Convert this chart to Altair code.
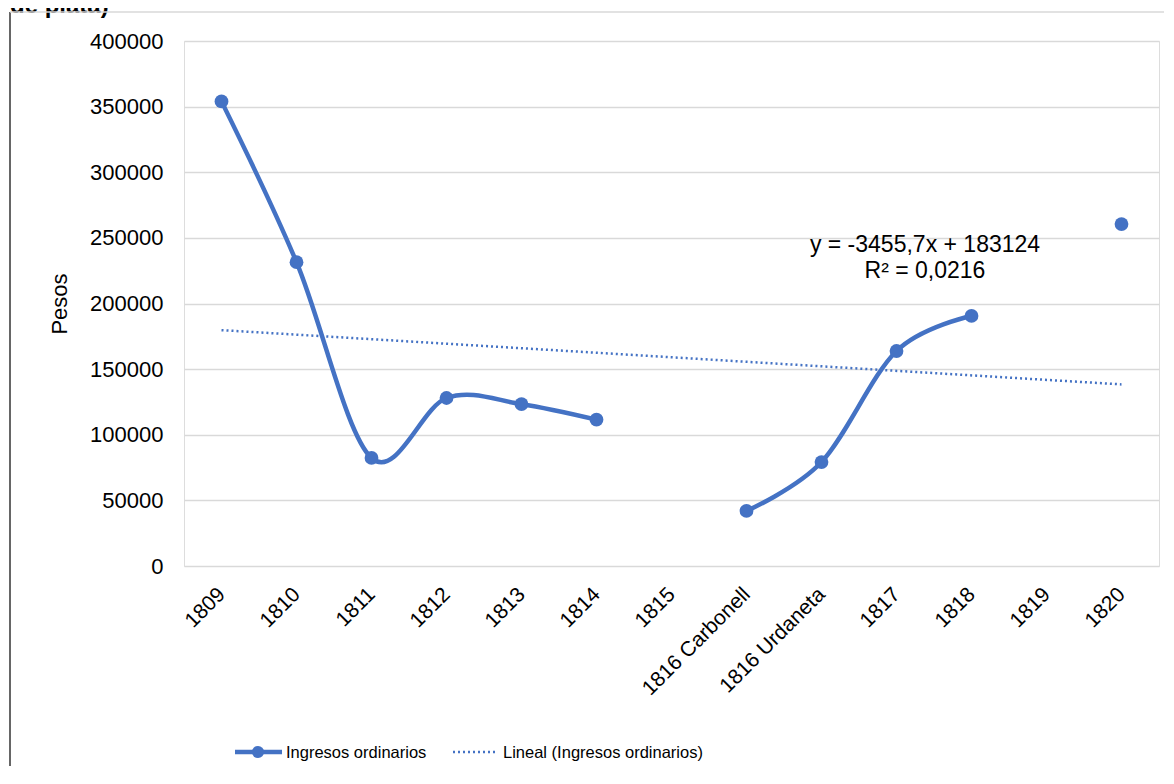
import altair as alt
import pandas as pd

categories = ["1809", "1810", "1811", "1812", "1813", "1814", "1815",
              "1816 Carbonell", "1816 Urdaneta", "1817", "1818", "1819", "1820"]
ingresos = [354000, 231500, 82300, 128000, 123300, 111500, None,
            42000, 79200, 163800, 190500, None, 260500]
eq_lines = ["y = -3455,7x + 183124", "R² = 0,0216"]
legend_labels = ["Ingresos ordinarios", "Lineal (Ingresos ordinarios)"]
title_text = "de plata)"

BLUE = "#4472C4"
FONT = "Liberation Sans"

# build table; segment id breaks the line at missing values
rows = []
seg = 0
prev_missing = True
for i, (c, v) in enumerate(zip(categories, ingresos), start=1):
    if v is None:
        prev_missing = True
        continue
    if prev_missing:
        seg += 1
    prev_missing = False
    rows.append({"idx": i, "cat": c, "val": v, "seg": seg})
df = pd.DataFrame(rows)

label_js = "[" + ",".join('"%s"' % c for c in categories) + "]"

x_enc = alt.X("idx:Q",
              scale=alt.Scale(domain=[0.5, len(categories) + 0.5], nice=False, zero=False),
              axis=alt.Axis(values=list(range(1, len(categories) + 1)),
                            labelExpr=label_js + "[datum.value - 1]",
                            labelAngle=-45, labelAlign="right", labelBaseline="middle",
                            labelPadding=25, labelFontSize=21, labelColor="#000",
                            labelFont=FONT, labelOverlap=False, labelBound=False,
                            ticks=False, domain=False, grid=False,
                            title=None))
y_enc = alt.Y("val:Q",
              scale=alt.Scale(domain=[0, 400000], nice=False),
              axis=alt.Axis(values=list(range(0, 400001, 50000)), format="d",
                            labelFontSize=22, labelColor="#000", labelFont=FONT,
                            labelPadding=21, ticks=False, domain=False,
                            gridColor="#d9d9d9", gridWidth=1.5,
                            title="Pesos", titleFontSize=22, titleFont=FONT,
                            titleFontWeight="normal", titleColor="#000",
                            titlePadding=18))

base = alt.Chart(df)

line = base.mark_line(color=BLUE, strokeWidth=4.5, interpolate="cardinal").encode(
    x=x_enc, y=y_enc, detail="seg:N")
pts = base.mark_circle(color=BLUE, size=190, opacity=1).encode(x="idx:Q", y="val:Q")

trend = base.transform_regression("idx", "val", method="linear").mark_line(
    color=BLUE, strokeWidth=2.5, strokeDash=[2, 3]).encode(x="idx:Q", y="val:Q")


def text_at(t, x, y, size, font=FONT, align="center", weight="normal", baseline="middle"):
    return alt.Chart(pd.DataFrame({"t": [t]})).mark_text(
        fontSize=size, font=font, color="#000", align=align, baseline=baseline,
        fontWeight=weight).encode(text="t:N", x=alt.value(x), y=alt.value(y))


eq1 = text_at(eq_lines[0], 741, 204, 23)
eq2 = text_at(eq_lines[1], 741, 230, 23)

title = text_at(title_text, -174, -28, 24, align="left", weight="bold", baseline="alphabetic")

one = pd.DataFrame({"a": [0]})
frame_left = alt.Chart(one).mark_rule(color="#333", strokeWidth=1.5).encode(
    x=alt.value(-174), y=alt.value(-29), y2=alt.value(760))
frame_top = alt.Chart(one).mark_rule(color="#d9d9d9", strokeWidth=1.5).encode(
    x=alt.value(-174), x2=alt.value(1000), y=alt.value(-29))

# manual legend
leg_line = alt.Chart(one).mark_rule(color=BLUE, strokeWidth=4.5).encode(
    x=alt.value(51), x2=alt.value(98), y=alt.value(711))
leg_pt = alt.Chart(one).mark_circle(color=BLUE, size=150, opacity=1).encode(
    x=alt.value(74), y=alt.value(711))
leg_dot = alt.Chart(one).mark_rule(color=BLUE, strokeWidth=2.5, strokeDash=[2, 3]).encode(
    x=alt.value(269), x2=alt.value(313), y=alt.value(711))
leg_t1 = text_at(legend_labels[0], 102, 712, 16.5, align="left")
leg_t2 = text_at(legend_labels[1], 319, 712, 16.5, align="left")

chart = alt.layer(line, pts, trend, eq1, eq2, title, frame_left, frame_top,
                  leg_line, leg_pt, leg_dot, leg_t1, leg_t2).properties(
    width=975, height=525,
    autosize=alt.AutoSizeParams(type="none"),
    padding={"left": 176, "top": 33, "right": 5, "bottom": 200},
).configure_view(stroke=None).configure(background="white")

chart.save("out.html", embed_options={"renderer": "svg", "actions": False})
